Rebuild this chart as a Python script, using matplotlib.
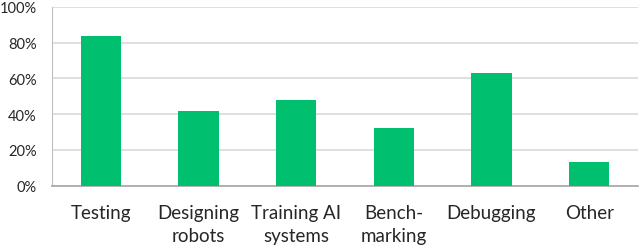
import numpy as np
import matplotlib.pyplot as plt
from matplotlib.ticker import PercentFormatter

# Datos
categorias = ["Testing", "Designing\nrobots", "Training AI\nsystems",
              "Bench-\nmarking", "Debugging", "Other"]
valores = [84, 42, 48, 32, 63, 13]
yticks = [0, 20, 40, 60, 80, 100]

plt.rcParams['font.family'] = ['Lato', 'DejaVu Sans']

fig = plt.figure(figsize=(6.4, 2.51), dpi=100)
ax = fig.add_axes([52/640, 1 - 186.5/251, (638-52)/640, (186.5-8)/251])

x = np.arange(len(categorias))
ax.bar(x, valores, width=0.41, color='#00BF6F', zorder=3)

ax.set_xlim(-0.5, len(categorias) - 0.5)
ax.set_ylim(0, 100)
ax.set_yticks(yticks)
ax.yaxis.set_major_formatter(PercentFormatter(decimals=0))
ax.set_xticks(x)
ax.set_xticklabels(categorias, fontsize=13.5, linespacing=1.45)
ax.tick_params(axis='y', labelsize=10.5, length=0, pad=11, labelcolor='#262626')
ax.tick_params(axis='x', length=0, pad=13, labelcolor='#262626')

ax.grid(axis='y', color='#d9d9d9', linewidth=1.2, zorder=0)
for s in ['top', 'right']:
    ax.spines[s].set_visible(False)
ax.spines['left'].set_color('#bfbfbf')
ax.spines['bottom'].set_color('#a6a6a6')
ax.spines['bottom'].set_linewidth(1.2)

fig.savefig('out.png', dpi=100)
